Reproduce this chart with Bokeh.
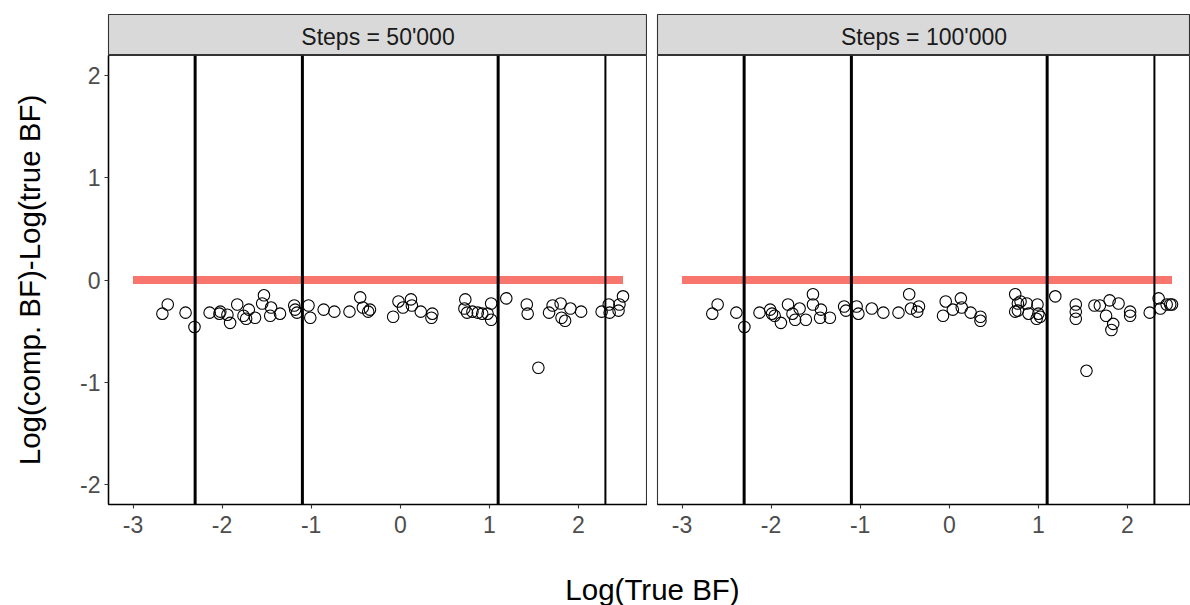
from bokeh.plotting import figure
from bokeh.layouts import row, column
from bokeh.models import Span, FixedTicker, Range1d, ColumnDataSource
from bokeh.core.properties import value
from bokeh.embed import file_html
from bokeh.resources import INLINE

# ---------------- data ----------------
panel_titles = ["Steps = 50'000", "Steps = 100'000"]

x_50k = [-2.67, -2.61, -2.41, -2.31, -2.14, -2.03, -2.02, -1.94, -1.91, -1.83,
         -1.76, -1.73, -1.70, -1.63, -1.55, -1.53, -1.45, -1.46, -1.35, -1.19,
         -1.18, -1.16, -1.03, -1.01, -0.86, -0.74, -0.57, -0.45, -0.42, -0.34,
         -0.36, -0.08, -0.02, 0.03, 0.12, 0.13, 0.23, 0.36, 0.35, 0.73,
         0.72, 0.75, 0.81, 0.87, 0.92, 0.98, 1.02, 1.02, 1.19, 1.42,
         1.43, 1.67, 1.71, 1.80, 1.81, 1.85, 1.91, 2.03, 2.26, 2.34,
         2.35, 2.46, 2.50, 2.45, 1.55]
y_50k = [-0.33, -0.24, -0.32, -0.46, -0.32, -0.33, -0.31, -0.34, -0.42, -0.24,
         -0.35, -0.38, -0.29, -0.37, -0.23, -0.15, -0.27, -0.35, -0.33, -0.25,
         -0.29, -0.32, -0.25, -0.37, -0.29, -0.31, -0.31, -0.17, -0.27, -0.29,
         -0.31, -0.36, -0.21, -0.27, -0.19, -0.25, -0.31, -0.33, -0.37, -0.19,
         -0.28, -0.32, -0.31, -0.32, -0.33, -0.33, -0.23, -0.39, -0.18, -0.24,
         -0.33, -0.32, -0.25, -0.23, -0.37, -0.40, -0.28, -0.31, -0.31, -0.24,
         -0.32, -0.24, -0.16, -0.30, -0.86]

x_100k = [-2.66, -2.60, -2.39, -2.30, -2.13, -2.01, -1.99, -1.96, -1.89, -1.81,
          -1.76, -1.73, -1.68, -1.61, -1.53, -1.53, -1.44, -1.45, -1.34, -1.18,
          -1.16, -1.04, -1.02, -0.87, -0.74, -0.57, -0.45, -0.43, -0.36, -0.34,
          -0.04, -0.07, 0.04, 0.13, 0.14, 0.24, 0.35, 0.35, 0.74, 0.77,
          0.80, 0.87, 0.74, 0.77, 0.89, 0.99, 1.00, 0.98, 1.02, 1.19,
          1.42, 1.42, 1.42, 1.63, 1.69, 1.80, 1.76, 1.90, 1.84, 1.82,
          2.03, 2.03, 2.25, 2.35, 2.37, 2.44, 2.48, 2.50, 1.54]
y_100k = [-0.33, -0.24, -0.32, -0.46, -0.32, -0.29, -0.33, -0.35, -0.42, -0.24,
          -0.33, -0.39, -0.28, -0.39, -0.14, -0.24, -0.29, -0.37, -0.37, -0.26,
          -0.30, -0.26, -0.33, -0.28, -0.32, -0.32, -0.14, -0.28, -0.31, -0.26,
          -0.21, -0.35, -0.29, -0.18, -0.27, -0.32, -0.36, -0.40, -0.14, -0.23,
          -0.21, -0.23, -0.31, -0.30, -0.33, -0.24, -0.33, -0.38, -0.36, -0.16,
          -0.24, -0.31, -0.38, -0.25, -0.25, -0.20, -0.35, -0.23, -0.43, -0.49,
          -0.31, -0.35, -0.32, -0.18, -0.28, -0.24, -0.24, -0.24, -0.89]

# reference line (y = 0 over the data range) and vertical thresholds
ref_x = [-3.0, 2.5]
ref_y = [0.0, 0.0]
vline_x = [-2.302585, -1.098612, 1.098612, 2.302585]

x_ticks = [-3, -2, -1, 0, 1, 2]
x_tick_labels = ["-3", "-2", "-1", "0", "1", "2"]
y_ticks = [-2, -1, 0, 1, 2]
y_tick_labels = ["-2", "-1", "0", "1", "2"]

x_title = "Log(True BF)"
y_title = "Log(comp. BF)-Log(true BF)"

# ---------------- styles / layout ----------------
FONT = "Liberation Sans"
vline_widths = [3, 3, 3, 2]
X_RANGE = (-3.275, 2.775)
Y_RANGE = (-2.2, 2.2)

STRIP_H = 55
PANEL_H = 494
FRAME_H = 449
BOTTOM_H = 56
LEFT1 = 108
GAP = 10
FRAME_W1 = 539
FRAME_W2 = 1190 - LEFT1 - FRAME_W1 - GAP      # right panel runs past the window edge
PX_PER_UNIT = FRAME_W1 / (X_RANGE[1] - X_RANGE[0])
X_RANGE2 = (X_RANGE[0], X_RANGE[0] + FRAME_W2 / PX_PER_UNIT)


def make_strip(label, width, left, right):
    s = figure(width=width, height=STRIP_H, x_range=Range1d(0, 1), y_range=Range1d(0, 1),
               min_border_left=left, min_border_right=right, min_border_top=14,
               min_border_bottom=0, toolbar_location=None, output_backend="svg",
               x_axis_location=None, y_axis_location=None)
    s.grid.visible = False
    s.background_fill_color = "#D9D9D9"
    s.border_fill_color = "white"
    s.outline_line_color = "#333333"
    s.outline_line_width = 1.1
    s.text(x=[0.5], y=[0.45], text=[label], text_align="center", text_baseline="middle",
           text_font=value(FONT), text_font_size="23px", text_color="#1A1A1A")
    return s


def make_panel(xs, ys, width, left, right, xr, show_y):
    p = figure(width=width, height=PANEL_H, x_range=Range1d(*xr), y_range=Range1d(*Y_RANGE),
               min_border_left=left, min_border_right=right, min_border_top=0,
               min_border_bottom=PANEL_H - FRAME_H, toolbar_location=None, output_backend="svg",
               y_axis_location="left" if show_y else None)
    p.grid.visible = False
    p.background_fill_color = "white"
    p.border_fill_color = "white"
    p.outline_line_color = "#333333"
    p.outline_line_width = 1.1

    src = ColumnDataSource(dict(x=xs, y=ys))
    p.line(x=ref_x, y=ref_y, line_color="#F8766D", line_width=8, line_cap="butt")
    p.scatter("x", "y", source=src, marker="circle", size=11.5, fill_color=None,
              line_color="black", line_width=1.1)
    for vx, w in zip(vline_x, vline_widths):
        p.add_layout(Span(location=vx, dimension="height", line_color="black", line_width=w))

    axes = [p.xaxis[0]] + ([p.yaxis[0]] if show_y else [])
    for ax in axes:
        ax.axis_line_color = "black"
        ax.axis_line_width = 1.5
        ax.major_tick_line_color = "#333333"
        ax.major_tick_line_width = 1.1
        ax.major_tick_out = 4
        ax.major_tick_in = 0
        ax.minor_tick_line_color = None
        ax.major_label_text_font = FONT
        ax.major_label_text_font_size = "23px"
        ax.major_label_text_color = "#4D4D4D"
        ax.major_label_standoff = 4
    p.xaxis[0].major_label_standoff = 7
    p.xaxis[0].ticker = FixedTicker(ticks=x_ticks)
    p.xaxis[0].major_label_overrides = {t: l for t, l in zip(x_ticks, x_tick_labels)}
    if show_y:
        ya = p.yaxis[0]
        ya.ticker = FixedTicker(ticks=y_ticks)
        ya.major_label_overrides = {t: l for t, l in zip(y_ticks, y_tick_labels)}
        ya.axis_label = y_title
        ya.axis_label_text_font = FONT
        ya.axis_label_text_font_size = "29.5px"
        ya.axis_label_text_font_style = "normal"
        ya.axis_label_text_color = "black"
        ya.axis_label_standoff = 31
    return p


w1 = LEFT1 + FRAME_W1
w2 = GAP + FRAME_W2

s1 = make_strip(panel_titles[0], w1, LEFT1, 0)
s2 = make_strip(panel_titles[1], w2, GAP, 0)
p1 = make_panel(x_50k, y_50k, w1, LEFT1, 0, X_RANGE, True)
p2 = make_panel(x_100k, y_100k, w2, GAP, 0, X_RANGE2, False)

lab = figure(width=1190, height=BOTTOM_H, x_range=Range1d(0, 1190), y_range=Range1d(0, BOTTOM_H),
             min_border=0, toolbar_location=None, output_backend="svg",
             x_axis_location=None, y_axis_location=None)
lab.grid.visible = False
lab.outline_line_color = None
lab.text(x=[652], y=[16], text=[x_title], text_align="center", text_baseline="middle",
         text_font=value(FONT), text_font_size="29.5px", text_color="black")

layout = column(row(column(s1, p1), column(s2, p2)), lab)

open("out.html", "w").write(file_html(layout, INLINE))
